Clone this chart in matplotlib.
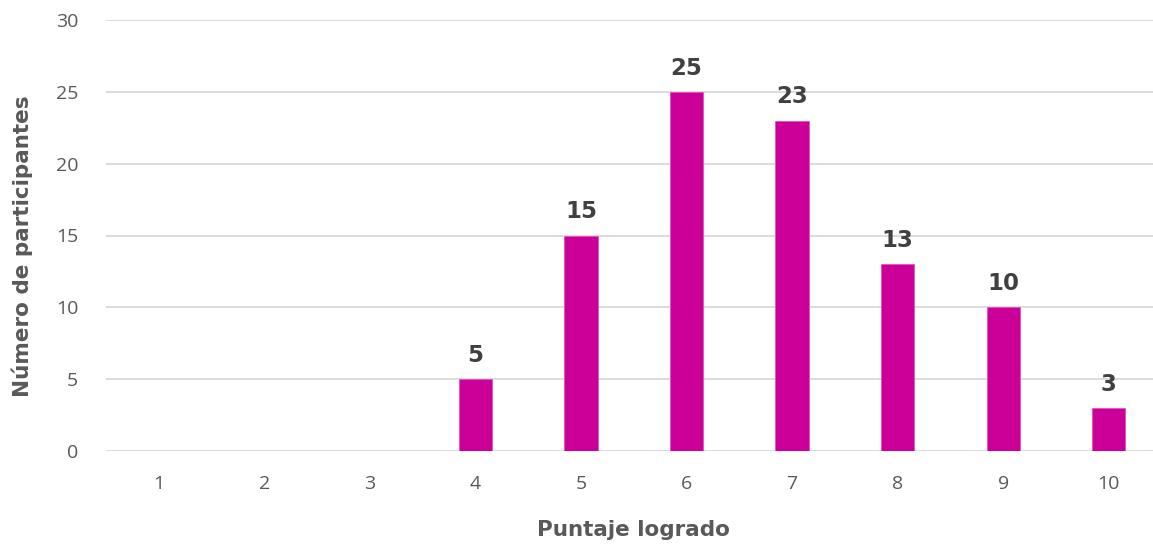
import matplotlib.pyplot as plt

# puntajes y cantidad de participantes
puntajes = [1, 2, 3, 4, 5, 6, 7, 8, 9, 10]
participantes = [0, 0, 0, 5, 15, 25, 23, 13, 10, 3]
yticks = [0, 5, 10, 15, 20, 25, 30]

bar_color = "#CC0099"
grid_color = "#D9D9D9"
tick_color = "#595959"
label_color = "#404040"

fig = plt.figure(figsize=(11.53, 5.48), dpi=100)
ax = fig.add_axes([106 / 1153, 97 / 548, (1153 - 106) / 1153, 431 / 548])

bars = ax.bar(puntajes, participantes, width=0.315, color=bar_color,
              edgecolor="#E055B8", linewidth=0.6, zorder=3)

for x, v in zip(puntajes, participantes):
    if v > 0:
        ax.text(x, v + 0.85, str(v), ha="center", va="bottom",
                fontsize=16.5, fontweight="bold", color=label_color,
                family="DejaVu Sans")

ax.set_xlim(0.5, 10.42)
ax.set_ylim(0, 30)
ax.set_yticks(yticks)
ax.set_xticks(puntajes)
ax.grid(axis="y", color=grid_color, linewidth=1.3, zorder=0)
ax.tick_params(length=0, labelsize=14, colors=tick_color, pad=17)
ax.tick_params(axis="y", pad=20)
for lab in ax.get_xticklabels() + ax.get_yticklabels():
    lab.set_family("Open Sans")
for s in ax.spines.values():
    s.set_visible(False)

fig.text((159 + 1108) / 2 / 1153, 18 / 548, "Puntaje logrado", ha="center",
         va="center", fontsize=15.5, fontweight="bold", color=tick_color,
         family="DejaVu Sans")
fig.text(22 / 1153, (548 - 246) / 548, "Número de participantes", rotation=90,
         ha="center", va="center", fontsize=15.5, fontweight="bold",
         color=tick_color, family="DejaVu Sans")

fig.savefig("out.png", dpi=100)
